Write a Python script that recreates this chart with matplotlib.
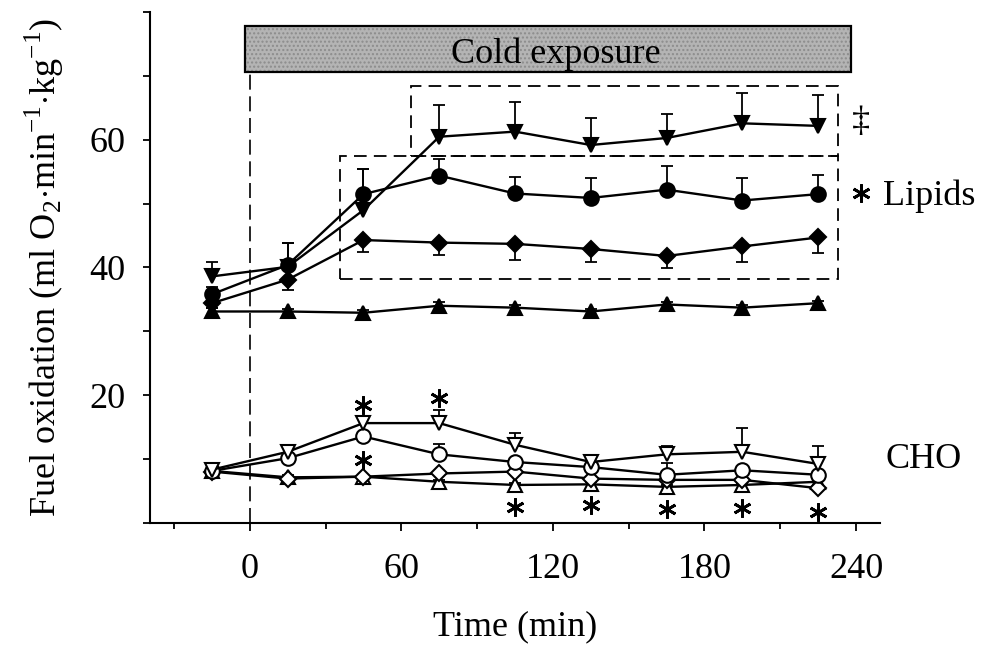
import matplotlib
matplotlib.use("Agg")
import matplotlib.pyplot as plt
from matplotlib.patches import Rectangle
from matplotlib.ticker import MultipleLocator

plt.rcParams['font.family'] = ['Liberation Serif', 'DejaVu Serif']
plt.rcParams['mathtext.fontset'] = 'custom'
plt.rcParams['mathtext.rm'] = 'Liberation Serif'

# time points (min)
t = [-15, 15, 45, 75, 105, 135, 165, 195, 225]

# lipid oxidation (filled symbols)
lip_dtri = [38.6, 40.1, 49.0, 60.5, 61.3, 59.2, 60.3, 62.6, 62.2]
lip_dtri_err = [2.3, 3.7, 6.4, 5.0, 4.7, 4.3, 3.8, 4.7, 4.9]
lip_circ = [35.8, 40.4, 51.5, 54.4, 51.6, 50.9, 52.2, 50.5, 51.5]
lip_circ_err = [1.2, 3.4, 3.9, 2.6, 2.6, 3.1, 3.7, 3.5, 3.0]
lip_diam = [34.4, 38.1, 44.3, 43.9, 43.7, 42.9, 41.8, 43.3, 44.7]
lip_diam_err = [0.8, 1.6, 1.8, 1.9, 2.5, 2.1, 1.9, 2.4, 2.5]   # drawn downward
lip_utri = [33.1, 33.1, 32.9, 34.0, 33.7, 33.1, 34.2, 33.7, 34.4]
lip_utri_err = [0.6, 0.4, 0.4, 0.6, 0.4, 0.4, 0.4, 0.4, 0.4]

# carbohydrate oxidation (open symbols)
cho_dtri = [8.3, 11.1, 15.6, 15.6, 12.2, 9.5, 10.7, 11.1, 9.2]
cho_dtri_err = [0.9, 0.8, 1.0, 2.0, 1.9, 1.1, 1.3, 3.7, 2.8]
cho_circ = [8.1, 10.1, 13.5, 10.7, 9.5, 8.7, 7.5, 8.2, 7.5]
cho_circ_err = [0.5, 0.8, 0.6, 1.7, 0.5, 0.5, 1.8, 0.5, 0.5]
cho_diam = [8.0, 6.9, 7.2, 7.7, 8.0, 6.9, 6.7, 6.7, 5.4]
cho_diam_err = [0.4, 0.3, 0.3, 0.3, 0.3, 0.3, 0.3, 0.3, 0.3]
cho_utri = [8.1, 7.1, 7.2, 6.4, 5.9, 6.0, 5.6, 5.9, 6.4]
cho_utri_err = [0.4, 0.3, 0.3, 0.3, 0.3, 0.3, 0.3, 0.3, 0.3]

# significance asterisks
star_t = [45, 75, 45, 105, 135, 165, 195, 225]
star_y = [18.4, 19.5, 9.8, 2.5, 2.7, 2.1, 2.3, 1.7]

fig = plt.figure(figsize=(9.87, 6.5), dpi=100)
ax = fig.add_axes([0.152, 0.196, 0.7396, 0.785])


def draw_series(y, err, marker, ms, face, direction=1, z=3):
    tops = [v + direction * e for v, e in zip(y, err)]
    ax.vlines(t, y, tops, color='k', lw=1.3, zorder=z - 1)
    ax.plot(t, tops, ls='none', marker='_', ms=8, mew=1.3, color='k', zorder=z - 1)
    ax.plot(t, y, color='k', lw=1.7, marker=marker, ms=ms, mfc=face,
            mec='k', mew=1.5, zorder=z, clip_on=False)


draw_series(lip_utri, lip_utri_err, '^', 10.5, 'k')
draw_series(lip_diam, lip_diam_err, 'D', 8.5, 'k', direction=-1)
draw_series(lip_circ, lip_circ_err, 'o', 10.5, 'k')
draw_series(lip_dtri, lip_dtri_err, 'v', 10.5, 'k')

draw_series(cho_utri, cho_utri_err, '^', 10.5, 'white', z=4)
draw_series(cho_diam, cho_diam_err, 'D', 8.5, 'white', z=5)
draw_series(cho_circ, cho_circ_err, 'o', 10.5, 'white', z=6)
draw_series(cho_dtri, cho_dtri_err, 'v', 10.5, 'white', z=7)

ax.plot(star_t, star_y, ls='none', marker=(6, 2, 0), ms=13, mew=2, color='k', zorder=8)

# cold exposure bar and onset line
ax.add_patch(Rectangle((-2, 70.7), 240, 7.2, facecolor='#b4b4b4', hatch='....',
                       edgecolor='#8c8c8c', lw=0, zorder=1))
ax.add_patch(Rectangle((-2, 70.7), 240, 7.2, fill=False, edgecolor='k', lw=1.6, zorder=2))
ax.text(121, 72.1, 'Cold exposure', ha='center', va='baseline', fontsize=26, zorder=3)
ax.plot([0, 0], [0, 70.7], color='k', lw=1.2, ls=(0, (9, 4)), zorder=1)

# dashed boxes around the lipid groups
ax.add_patch(Rectangle((64, 57.4), 169, 11.0, fill=False, edgecolor='k', lw=1.3,
                       ls=(0, (7, 4)), zorder=1))
ax.add_patch(Rectangle((35.6, 38.2), 197.4, 19.2, fill=False, edgecolor='k', lw=1.3,
                       ls=(0, (7, 4)), zorder=1))

# right-hand annotations
ax.text(242, 62.7, '\u2021', ha='center', va='center', fontsize=26)
ax.plot([242], [51.7], ls='none', marker=(6, 2, 0), ms=13, mew=2, color='k', clip_on=False)
ax.text(250.5, 49.8, 'Lipids', ha='left', va='baseline', fontsize=26)
ax.text(266.8, 8.55, 'CHO', ha='center', va='baseline', fontsize=26)

ax.set_xlim(-39.5, 249.5)
ax.set_ylim(0, 80)
ax.spines['top'].set_visible(False)
ax.spines['right'].set_visible(False)
for s in ['left', 'bottom']:
    ax.spines[s].set_linewidth(1.5)

ax.set_xticks([0, 60, 120, 180, 240])
ax.xaxis.set_minor_locator(MultipleLocator(30))
ax.set_yticks([20, 40, 60])
ax.yaxis.set_minor_locator(MultipleLocator(10))
ax.tick_params(axis='x', which='major', direction='out', length=6, width=1.3, pad=16, labelsize=26)
ax.tick_params(axis='x', which='minor', direction='out', length=4, width=1.3)
ax.tick_params(axis='y', which='both', direction='out', length=5, width=1.3, pad=13, labelsize=26)

ax.set_xlabel('Time (min)', fontsize=26)
ax.xaxis.set_label_coords(0.5, -0.172)
ax.set_ylabel('Fuel oxidation (ml O$_2$$\\cdot$min$^{-1}$$\\cdot$kg$^{-1}$)', fontsize=26)
ax.yaxis.set_label_coords(-0.115, 0.5)

fig.savefig('out.png', dpi=100)
